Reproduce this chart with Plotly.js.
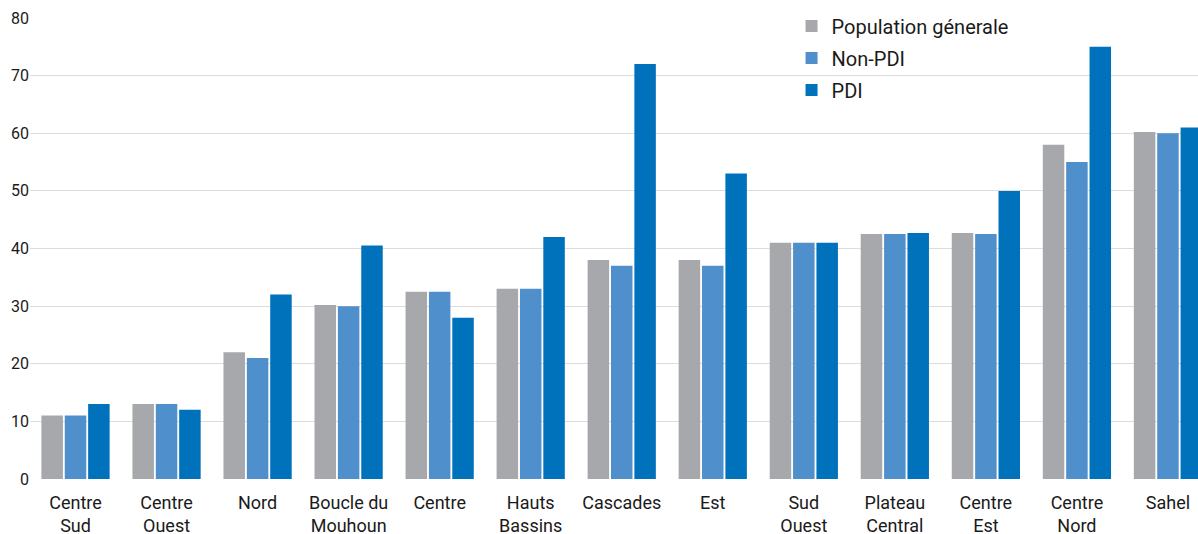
<!DOCTYPE html>
<html>
<head>
<meta charset="utf-8">
<script src="https://cdn.plot.ly/plotly-3.0.1.min.js"></script>
<style>
  html, body { margin: 0; padding: 0; background: #fff; }
  #chart { width: 1198px; height: 534px; }
</style>
</head>
<body>
<div id="chart"></div>
<script>
// regions, in chart order
const regions = [
  "Centre<br>Sud", "Centre<br>Ouest", "Nord", "Boucle du<br>Mouhoun", "Centre",
  "Hauts<br>Bassins", "Cascades", "Est", "Sud<br>Ouest", "Plateau<br>Central",
  "Centre<br>Est", "Centre<br>Nord", "Sahel"
];

const popGenerale = [11, 13, 22, 30.2, 32.5, 33, 38, 38, 41, 42.5, 42.7, 58, 60.2];
const nonPdi      = [11, 13, 21, 30, 32.5, 33, 37, 37, 41, 42.5, 42.5, 55, 60];
const pdi         = [13, 12, 32, 40.5, 28, 42, 72, 53, 41, 42.7, 50, 75, 61];

const yTicks = [0, 10, 20, 30, 40, 50, 60, 70, 80];
const gridTicks = [10, 20, 30, 40, 50, 60, 70];

const font = "'Roboto', sans-serif";

const traces = [
  { name: "Population génerale", y: popGenerale, color: "#a7a8ab" },
  { name: "Non-PDI", y: nonPdi, color: "#4f90cc" },
  { name: "PDI", y: pdi, color: "#0072bc" }
].map(s => ({
  type: "bar",
  name: s.name,
  legendgroup: s.name,
  x: regions,
  y: s.y,
  marker: { color: s.color },
  hoverinfo: "x+y+name"
}));

// invisible trace to carry the tick-label axis
traces.push({
  type: "scatter", x: [regions[0]], y: [0], yaxis: "y2",
  mode: "markers", marker: { opacity: 0 }, showlegend: false, hoverinfo: "skip"
});

const layout = {
  width: 1198,
  height: 534,
  margin: { l: 30, r: 0, t: 18, b: 54.5 },
  paper_bgcolor: "#fff",
  plot_bgcolor: "#fff",
  barmode: "group",
  bargap: 0.23,
  bargroupgap: 0.08,
  font: { family: font, size: 18, color: "#1a1a1a" },
  xaxis: {
    range: [-0.5, 12.33],
    showgrid: false,
    showline: false,
    zeroline: false,
    ticks: "",
    ticklabelstandoff: 11,
    tickfont: { family: font, size: 18, color: "#1a1a1a" },
    fixedrange: true
  },
  yaxis: {
    range: [0, 80],
    tickvals: gridTicks,
    showticklabels: false,
    showgrid: true,
    gridcolor: "#dcdcdc",
    gridwidth: 1,
    zeroline: false,
    showline: false,
    ticks: ""
  },
  yaxis2: {
    range: [0, 80],
    overlaying: "y",
    side: "left",
    tickvals: yTicks,
    showgrid: false,
    zeroline: false,
    showline: false,
    ticks: "",
    tickfont: { family: font, size: 16, color: "#1a1a1a" }
  },
  legend: {
    x: 0.652,
    y: 1.025,
    xanchor: "left",
    yanchor: "top",
    bgcolor: "rgba(0,0,0,0)",
    font: { family: font, size: 20, color: "#1a1a1a" },
    traceorder: "grouped",
    tracegroupgap: 3,
    itemwidth: 30
  },
  showlegend: true
};

Plotly.newPlot("chart", traces, layout, { displayModeBar: false, staticPlot: true });
</script>
</body>
</html>
